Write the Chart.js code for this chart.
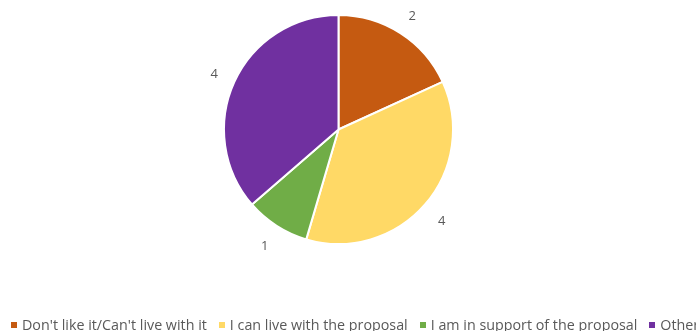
<!DOCTYPE html>
<html>
<head>
<meta charset="utf-8">
<script src="https://cdn.jsdelivr.net/npm/chart.js@4/dist/chart.umd.min.js"></script>
<style>
  html, body { margin: 0; padding: 0; background: #fff; overflow: hidden; }
  #wrap { position: relative; width: 696px; height: 331px; overflow: hidden; }
  #leyenda {
    position: absolute; left: 11px; top: 317px;
    display: flex; white-space: nowrap;
    font-family: "Open Sans", sans-serif; font-size: 14.3px; line-height: 16px;
    color: #595959;
  }
  .item { display: flex; align-items: center; margin-right: 12px; }
  .marca { width: 6px; height: 6px; margin-right: 5px; }
</style>
</head>
<body>
<div id="wrap">
  <canvas id="grafica" width="696" height="331"></canvas>
  <div id="leyenda"></div>
</div>
<script>
// Datos del gráfico
const categorias = [
  "Don't like it/Can't live with it",
  "I can live with the proposal",
  "I am in support of the proposal",
  "Other",
];
const votos = [2, 4, 1, 4];
const colores = ["#C55A11", "#FFD966", "#70AD47", "#7030A0"];

// Etiquetas de valor fuera de cada porción
const etiquetasFuera = {
  id: "etiquetasFuera",
  afterDatasetsDraw(chart) {
    const ctx = chart.ctx;
    const meta = chart.getDatasetMeta(0);
    ctx.save();
    ctx.font = "13px 'Open Sans'";
    ctx.fillStyle = "#595959";
    ctx.textAlign = "center";
    ctx.textBaseline = "middle";
    meta.data.forEach((arc, i) => {
      const p = arc.getProps(["x", "y", "startAngle", "endAngle", "outerRadius"], true);
      const ang = (p.startAngle + p.endAngle) / 2;
      const r = p.outerRadius + 22;
      ctx.fillText(String(votos[i]), p.x + Math.cos(ang) * r, p.y + Math.sin(ang) * r + 2);
    });
    ctx.restore();
  },
};

new Chart(document.getElementById("grafica"), {
  type: "pie",
  data: {
    labels: categorias,
    datasets: [
      {
        data: votos,
        backgroundColor: colores,
        borderColor: "#ffffff",
        borderWidth: 2,
      },
    ],
  },
  options: {
    responsive: false,
    animation: false,
    layout: { padding: { top: 14, right: 19, left: 0, bottom: 86 } },
    plugins: {
      tooltip: { enabled: false },
      legend: { display: false },
    },
  },
  plugins: [etiquetasFuera],
});

// Leyenda en HTML (se corta por la derecha como en el original)
const leyenda = document.getElementById("leyenda");
leyenda.innerHTML = categorias
  .map(
    (c, i) =>
      `<div class="item"><span class="marca" style="background:${colores[i]}"></span>${c}</div>`,
  )
  .join("");
</script>
</body>
</html>
